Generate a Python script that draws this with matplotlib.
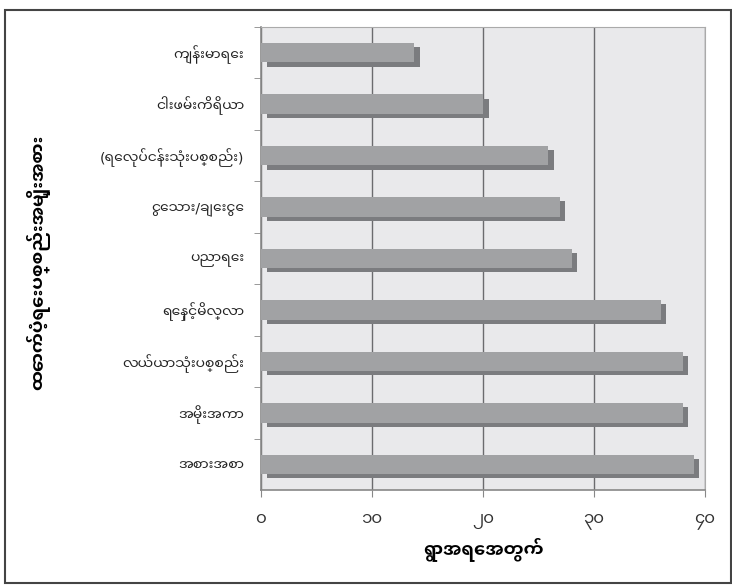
import matplotlib
matplotlib.use("Agg")
import matplotlib.pyplot as plt
from matplotlib.patches import Rectangle

categories = ["ကျန်းမာရေး", "ငါးဖမ်းကိရိယာ", "(ရေလုပ်ငန်းသုံးပစ္စည်း)", "ငွေသား/ချေးငွေ",
              "ပညာရေး", "ရေနှင့်မိလ္လာ", "လယ်ယာသုံးပစ္စည်း", "အမိုးအကာ", "အစားအစာ"]
values = [14.3, 20.5, 26.4, 27.4, 28.5, 36.5, 38.5, 38.5, 39.5]
tick_values = [0, 10, 20, 30, 40]
tick_labels = ["၀", "၁၀", "၂၀", "၃၀", "၄၀"]
xlabel = "ရွာအရေအတွက်"
ylabel = "ထောက်ပံ့ရေးပစ္စည်းအမျိုးအစား"

plt.rcParams['font.family'] = ['Noto Sans Myanmar UI', 'DejaVu Sans']

fig = plt.figure(figsize=(7.32, 5.85), dpi=100)
ax = fig.add_axes([261/732, 1-490/585, (705-261)/732, (490-27)/585])
ax.set_facecolor("#e9e9eb")

n = len(categories)
ys = list(range(n))
h = 0.38
dx = 0.5
dy = 0.08
ax.barh([y + dy for y in ys], [v - dx for v in values], left=dx, height=h,
        color="#7b7c7f", zorder=3)
ax.barh(ys, [v - dx for v in values], height=h, color="#a1a2a4", zorder=4)

ax.set_xlim(0, 40)
ax.set_ylim(n - 0.5, -0.5)
ax.set_xticks(tick_values)
ax.set_xticklabels(tick_labels, fontsize=12, color="#333333")
ax.set_yticks(ys)
ax.set_yticklabels(categories, fontsize=10, color="#222222")
ax.tick_params(axis="y", length=0, pad=12)
ax.set_yticks([y + 0.5 for y in ys[:-1]] + [-0.5], minor=True)
ax.tick_params(axis="y", which="minor", length=5, color="#888888", direction="out")
ax.tick_params(axis="x", length=5, color="#888888", direction="out", pad=10)
ax.grid(axis="x", color="#6b6b6e", linewidth=1.0, zorder=1)
ax.set_axisbelow(True)
for s in ["top", "right"]:
    ax.spines[s].set_color("#aaaaaa")
for s in ["left", "bottom"]:
    ax.spines[s].set_color("#888888")
    ax.spines[s].set_linewidth(1.2)

ax.set_xlabel(xlabel, fontsize=13, fontweight="bold", labelpad=6)
fig.text(38/732, 1 - 262/585, ylabel, rotation=90, fontsize=13, fontweight="bold",
         ha="center", va="center")

fig.patches.append(Rectangle((5/732, 2/585), 726/732, 1 - 12/585, transform=fig.transFigure,
                             fill=False, edgecolor="#444444", linewidth=1.5))

fig.savefig("out.png", dpi=100)
